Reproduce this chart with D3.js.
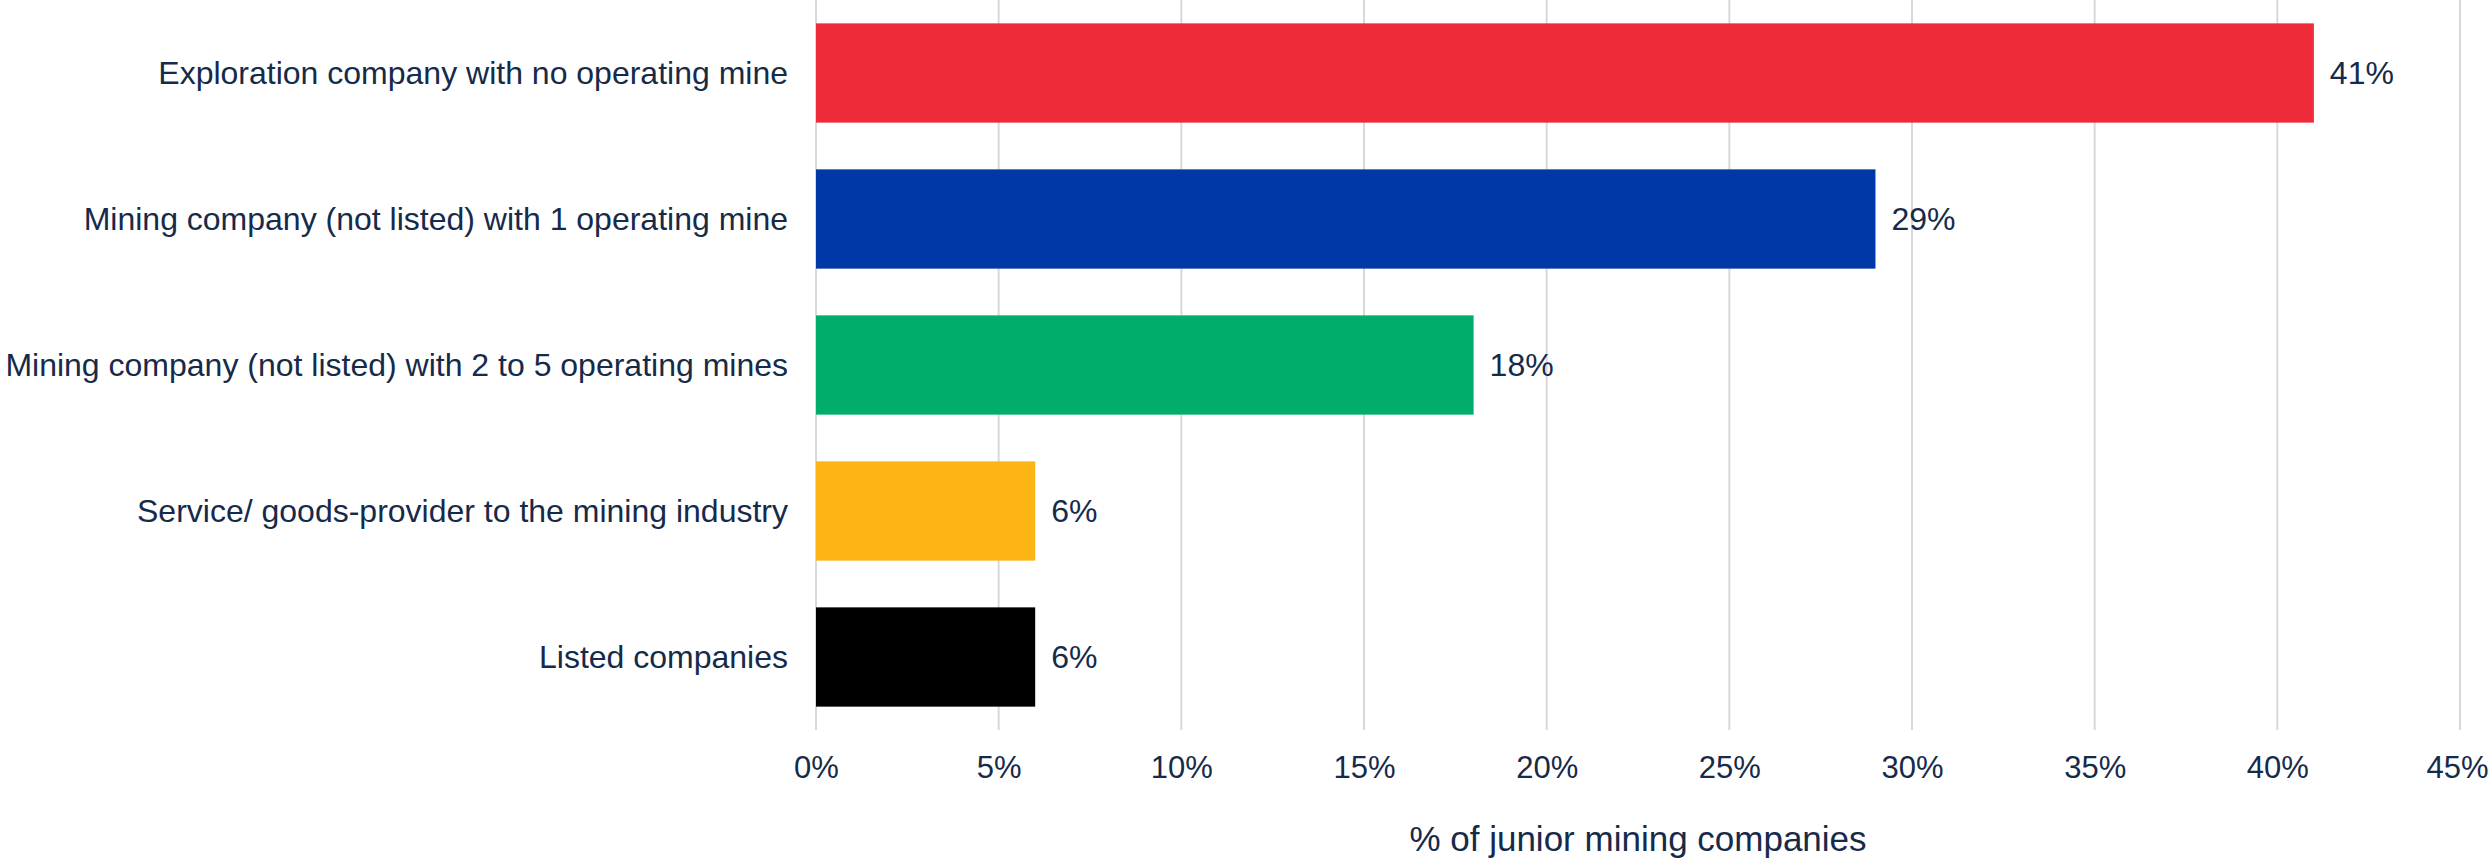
<!DOCTYPE html>
<html>
<head>
<meta charset="utf-8">
<script src="https://cdn.jsdelivr.net/npm/d3@7"></script>
<style>
  html, body { margin: 0; padding: 0; background: #ffffff; }
  svg { display: block; font-family: "Liberation Sans", Arial, sans-serif; }
</style>
</head>
<body>
<svg id="chart" width="2489" height="861"></svg>
<script>
// Share of junior mining companies by company type
const categories = [
  "Exploration company with no operating mine",
  "Mining company (not listed) with 1 operating mine",
  "Mining company (not listed) with 2 to 5 operating mines",
  "Service/ goods-provider to the mining industry",
  "Listed companies"
];
const values = [41, 29, 18, 6, 6];
const barColors = ["#ee2b39", "#0039a6", "#00ad6b", "#fdb515", "#000000"];
const xTicks = [0, 5, 10, 15, 20, 25, 30, 35, 40, 45];
const xTitle = "% of junior mining companies";

const textColor = "#162a4a";
const gridColor = "#d9d9d9";
const font = "'Liberation Sans', Arial, sans-serif";

const svg = d3.select("#chart");
const margin = { left: 816, right: 29, top: 0, bottom: 131 };
const W = 2489, H = 861;
const innerW = W - margin.left - margin.right;
const innerH = H - margin.top - margin.bottom;

const g = svg.append("g").attr("transform", `translate(${margin.left},${margin.top})`);

const x = d3.scaleLinear().domain([0, 45]).range([0, innerW]);
const y = d3.scaleBand().domain(categories).range([0, innerH]).paddingInner(0.32).paddingOuter(0.16);

// vertical gridlines
g.append("g")
  .selectAll("line")
  .data(xTicks)
  .join("line")
  .attr("x1", d => x(d)).attr("x2", d => x(d))
  .attr("y1", 0).attr("y2", innerH)
  .attr("stroke", gridColor)
  .attr("stroke-width", 2);

// x axis tick labels
const xAxis = d3.axisBottom(x).tickValues(xTicks).tickFormat(d => d + "%").tickSize(0).tickPadding(0);
const xg = g.append("g").attr("transform", `translate(0,${innerH})`).call(xAxis);
xg.select(".domain").remove();
xg.selectAll("text")
  .attr("y", 48)
  .attr("dy", 0)
  .attr("fill", textColor)
  .style("font-size", "31px")
  .style("font-family", font);

// keep the outermost tick label inside the drawing area
xg.selectAll(".tick").each(function(d) {
  const t = d3.select(this).select("text");
  const bb = t.node().getBBox();
  const right = margin.left + x(d) + bb.x + bb.width;
  if (right > W - 1) t.attr("x", (W - 1) - right);
});

// category labels
const yAxis = d3.axisLeft(y).tickSize(0).tickPadding(28);
const yg = g.append("g").call(yAxis);
yg.select(".domain").remove();
yg.selectAll("text")
  .attr("fill", textColor)
  .attr("dy", "0.35em")
  .style("font-size", "32px")
  .style("font-family", font);

// bars
g.append("g")
  .selectAll("rect")
  .data(categories)
  .join("rect")
  .attr("x", x(0))
  .attr("y", d => y(d))
  .attr("width", (d, i) => x(values[i]) - x(0))
  .attr("height", y.bandwidth())
  .attr("fill", (d, i) => barColors[i]);

// value labels
g.append("g")
  .selectAll("text")
  .data(categories)
  .join("text")
  .attr("x", (d, i) => x(values[i]) + 16)
  .attr("y", d => y(d) + y.bandwidth() / 2)
  .attr("dy", "0.35em")
  .attr("fill", textColor)
  .style("font-size", "32px")
  .text((d, i) => values[i] + "%");

// axis title
svg.append("text")
  .attr("x", margin.left + innerW / 2)
  .attr("y", 851)
  .attr("text-anchor", "middle")
  .attr("fill", textColor)
  .style("font-size", "35px")
  .text(xTitle);
</script>
</body>
</html>
